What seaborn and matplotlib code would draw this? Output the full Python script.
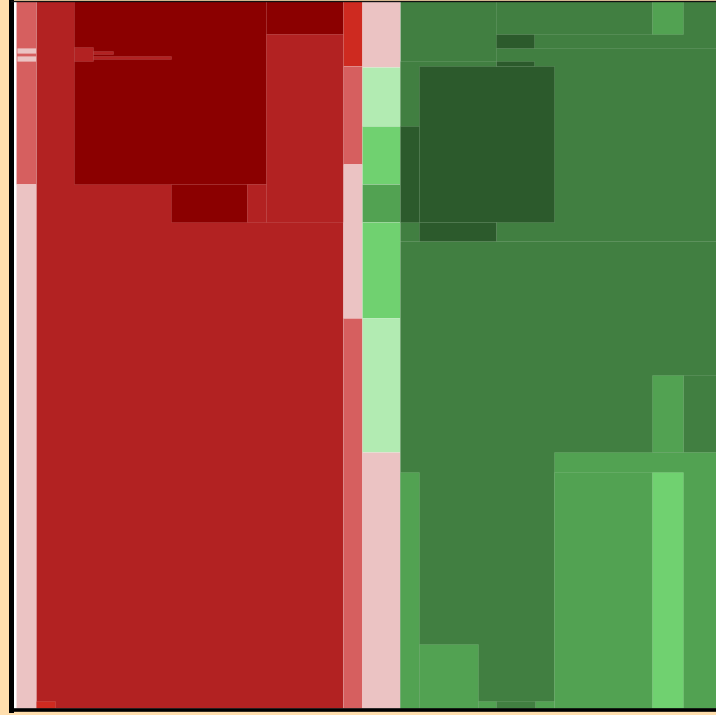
import matplotlib
matplotlib.use("Agg")
import matplotlib.pyplot as plt
import seaborn as sns
import pandas as pd

# tile colours, keyed by class
tile_colors = {
    "darkred": "#8B0000",
    "firebrick": "#B22222",
    "red": "#CE2A20",
    "mutedred": "#D65F5F",
    "pink": "#EBC3C3",
    "lightgreen": "#B2EBB2",
    "green": "#70D170",
    "medgreen": "#52A252",
    "darkgreen": "#417F41",
    "darkergreen": "#2C5A2C",
}

# tile edges (x0, x1, y0, y1), drawn in this order
x0 = [16, 16, 16.7, 16.7,
      36, 74, 266, 170.7, 266, 247.3, 74, 93.3, 93.3, 36,
      343, 343, 343, 343,
      362, 362, 362, 362, 362, 362, 362,
      400, 496.3, 496.3, 400, 400, 496.3, 419.3, 400, 419.3, 496.3,
      651.7, 683.3, 651.7, 554, 554, 651.7, 400, 419.3, 477.7, 535, 496.3]
x1 = [36, 36, 36, 36,
      343, 266, 343, 247.3, 343, 266, 93.3, 112.7, 170.7, 55,
      362, 362, 362, 362,
      400, 400, 400, 400, 400, 400, 400,
      730, 651.7, 730, 496.3, 730, 534, 554, 419.3, 496.3, 534,
      683.3, 730, 683.3, 730, 651.7, 683.3, 419.3, 477.7, 496.3, 554, 535]
y0 = [1, 184, 48.3, 56,
      1, 1, 1, 184, 34.3, 184, 47.3, 50.7, 55.7, 701,
      1, 65.7, 164, 318,
      1, 66.7, 126, 183.7, 221.7, 318, 452.3,
      1, 1, 48.3, 60.7, 241, 34.3, 66, 126, 221.7, 60.7,
      1, 375, 375, 452.3, 471.7, 471.7, 471.7, 644, 701, 701, 701]
y1 = [184, 707.5, 52.5, 60.5,
      707.5, 184, 34.3, 222, 222, 222, 60.7, 54, 58.7, 707.5,
      65.7, 164, 318, 707.5,
      66.7, 126, 183.7, 221.7, 318, 452.3, 707.5,
      707.5, 34.3, 241, 241, 707.5, 48.3, 221.7, 221.7, 240.7, 66,
      34.3, 452.3, 452.3, 707.5, 707.5, 707.5, 707.5, 707.5, 707.5, 707.5, 707.5]
tile_class = ["mutedred", "pink", "pink", "pink",
              "firebrick", "darkred", "darkred", "darkred", "firebrick", "firebrick",
              "firebrick", "firebrick", "firebrick", "red",
              "red", "mutedred", "pink", "mutedred",
              "pink", "lightgreen", "green", "medgreen", "green", "lightgreen", "pink",
              "darkgreen", "darkgreen", "darkgreen", "darkgreen", "darkgreen",
              "darkergreen", "darkergreen", "darkergreen", "darkergreen", "darkergreen",
              "medgreen", "darkgreen", "medgreen", "medgreen", "medgreen", "green",
              "medgreen", "medgreen", "medgreen", "medgreen", "darkgreen"]

tiles = pd.DataFrame({"x0": x0, "x1": x1, "y0": y0, "y1": y1, "kind": tile_class})

sns.set_theme(style="white")

fig = plt.figure(figsize=(7.16, 7.15), dpi=100, facecolor="#FFDEAD")
ax = fig.add_axes([10.8 / 716, 5.5 / 715, 716 / 716, 709 / 715])
ax.set_facecolor("white")

ax.bar(x=tiles["x0"], height=tiles["y1"] - tiles["y0"],
       width=tiles["x1"] - tiles["x0"], bottom=tiles["y0"], align="edge",
       color=[tile_colors[k] for k in tiles["kind"]],
       edgecolor=(1, 1, 1, 0.12), linewidth=0.6)

ax.set_xlim(10.8, 726.8)
ax.set_ylim(709.5, 0.5)
ax.set_xticks([])
ax.set_yticks([])
ax.spines["left"].set_color("black")
ax.spines["left"].set_linewidth(3.6)
ax.spines["bottom"].set_color("black")
ax.spines["bottom"].set_linewidth(2.6)
ax.spines["top"].set_color("#111111")
ax.spines["top"].set_linewidth(1.0)
ax.spines["right"].set_visible(False)

fig.savefig("out.png", dpi=100, facecolor=fig.get_facecolor())
